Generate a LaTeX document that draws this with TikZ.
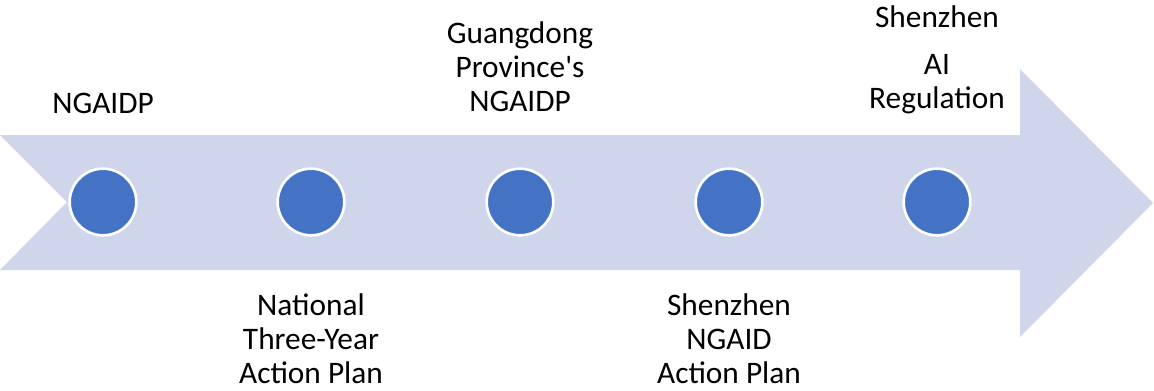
\documentclass[tikz,border=0pt]{standalone}
\usepackage{fontspec}
\setmainfont{Carlito}
\newfontfamily\labelfont{Carlito}
\definecolor{arrowfill}{HTML}{CFD5EA}
\definecolor{dotblue}{HTML}{4472C4}
\tikzset{
  dot/.style={circle, fill=dotblue, draw=white, line width=2pt, minimum size=50pt, inner sep=0pt},
  label text/.style={align=center, font=\labelfont\fontsize{23.5}{25.5}\selectfont, inner sep=0pt},
}
\begin{document}
\begin{tikzpicture}[x=0.75pt, y=-0.75pt]
  \useasboundingbox (0,0) rectangle (1154,390);

  % Drawing the notched arrow
  \fill [arrowfill] (0,135) -- (1020,135) -- (1020,69) -- (1153,203)
        -- (1020,337) -- (1020,270) -- (0,270) -- (67,202) -- cycle;

  % Marking the five dots
  \foreach \i/\x in {1/103, 2/311, 3/520, 4/729, 5/937}
    \node [dot] (c\i) at (\x,202) {};

  % Labels above
  \node [label text] (t1) at (103,103) {NGAIDP};
  \node [label text] (t3) at (520,67) {Guangdong\\Province's\\NGAIDP};
  \node [label text] (t5a) at (937,17) {Shenzhen};
  \node [label text] (t5) at (937,84) {AI\\Regulation};

  % Labels below
  \node [label text] (t2) at (311,339) {National\\Three-Year\\Action Plan};
  \node [label text] (t4) at (729,339) {Shenzhen\\NGAID\\Action Plan};
\end{tikzpicture}
\end{document}
